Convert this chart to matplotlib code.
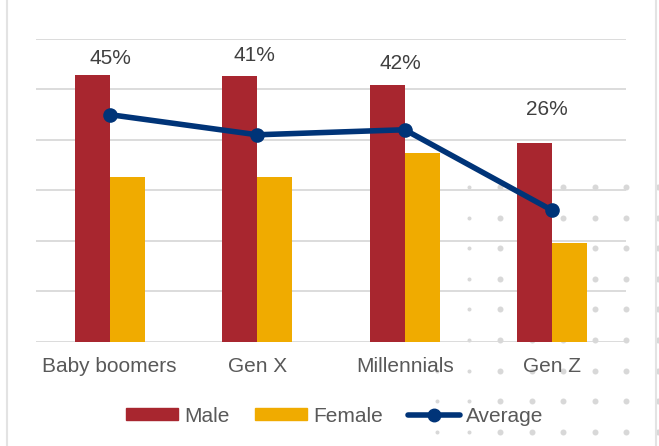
import numpy as np
import matplotlib
matplotlib.use('Agg')
import matplotlib.pyplot as plt
from matplotlib.patches import Patch
from matplotlib.lines import Line2D

plt.rcParams['font.family'] = ['Liberation Sans', 'DejaVu Sans']

# survey shares by generation (percent)
generations = ['Baby boomers', 'Gen X', 'Millennials', 'Gen Z']
male = [52.9, 52.7, 50.9, 39.4]
female = [32.6, 32.6, 37.3, 19.6]
average = [45, 41, 42, 26]

MALE_RED = '#A8262F'
FEMALE_GOLD = '#F0AB00'
NAVY = '#003478'
GRID = '#d9d9d9'

W, H = 659, 446
fig = plt.figure(figsize=(W / 100, H / 100), dpi=100)

# dotted decoration in the lower right corner
bg = fig.add_axes([0, 0, 1, 1], zorder=0)
bg.set_xlim(0, W)
bg.set_ylim(H, 0)
bg.axis('off')
cols = 437 + 31.5 * np.arange(8)
rows = 187 + 30.6 * np.arange(9)
for cx in cols:
    for ry in rows:
        if cx < 450 and ry < 360:
            continue
        size = 4 if cx < 480 else 6
        bg.plot(cx, ry, 'o', ms=size * 0.72, color='#d8d8d8', mec='none')

# thin frame lines at the left and right edges
bg.plot([6.5, 6.5], [0, H], color='#e3e3e3', lw=1.5)
bg.plot([655.5, 655.5], [0, H], color='#e3e3e3', lw=1.5)

ax = fig.add_axes([36 / W, 1 - 341.5 / H, (626 - 36) / W, (341.5 - 39) / H], zorder=1)
ax.patch.set_alpha(0)

x = np.arange(len(generations))
bw = 0.237
ax.bar(x - bw / 2, male, bw, color=MALE_RED, zorder=2)
ax.bar(x + bw / 2, female, bw, color=FEMALE_GOLD, zorder=2)
ax.plot(x, average, color=NAVY, lw=4, marker='o', ms=9.5,
        solid_capstyle='round', zorder=3)

# percentage labels above the male bars
lift = [11.9, 14.9, 15.1, 23.8]
shift = [0.4, -1.8, -3.2, -4.0]
for i, v in enumerate(average):
    ax.annotate(f'{v}%', (x[i], male[i]), xytext=(shift[i], lift[i]),
                textcoords='offset points', ha='center', va='center',
                fontsize=15, color='#404040')

ax.set_xlim(-0.5, 3.5)
ax.set_ylim(0, 60)
ax.set_yticks(np.arange(0, 61, 10))
ax.yaxis.grid(True, color=GRID, lw=1.3)
ax.set_axisbelow(True)
ax.tick_params(axis='y', left=False, labelleft=False)
ax.set_xticks(x)
ax.set_xticklabels(generations, fontsize=15, color='#595959')
ax.tick_params(axis='x', length=0, pad=11.5)
for s in ax.spines.values():
    s.set_visible(False)

handles = [
    Patch(color=MALE_RED, label='Male'),
    Patch(color=FEMALE_GOLD, label='Female'),
    Line2D([], [], color=NAVY, lw=4, marker='o', ms=9, solid_capstyle='round',
           label='Average'),
]
fig.legend(handles=handles, loc='center', bbox_to_anchor=(335 / W, 1 - 416 / H),
           ncol=3, frameon=False, fontsize=15, labelcolor='#595959',
           handlelength=2.5, handleheight=0.53, handletextpad=0.3,
           columnspacing=1.2)

fig.savefig('out.png', dpi=100)
